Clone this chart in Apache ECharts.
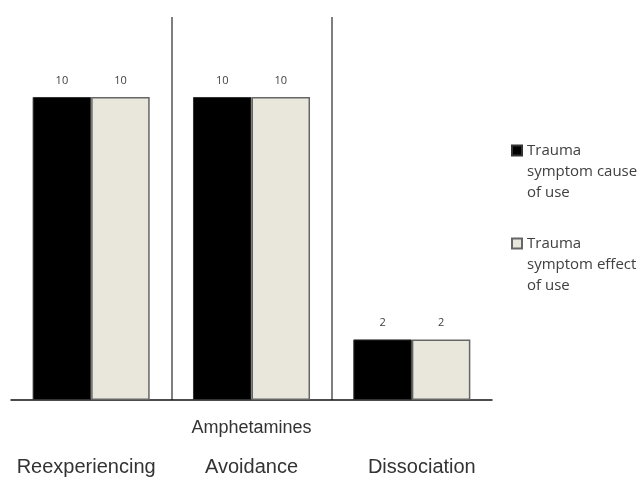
<!DOCTYPE html>
<html>
<head>
<meta charset="utf-8">
<script src="https://cdn.jsdelivr.net/npm/echarts@6/dist/echarts.min.js"></script>
<style>
  html, body { margin: 0; padding: 0; background: #fff; }
  #chart { width: 642px; height: 479px; }
</style>
</head>
<body>
<div id="chart"></div>
<script>
// Trauma symptom categories for amphetamine use
const categories = ['Reexperiencing', 'Avoidance', 'Dissociation'];
const causeValues = [10, 10, 2];
const effectValues = [10, 10, 2];
const seriesNames = ['Trauma symptom cause of use', 'Trauma symptom effect of use'];
// two leading blank lines keep the first text line level with the swatch
const legendLines = {
  'Trauma symptom cause of use': '\n\nTrauma\nsymptom cause\nof use',
  'Trauma symptom effect of use': '\n\nTrauma\nsymptom effect\nof use'
};
const axisTitle = 'Amphetamines';

// small horizontal nudges for the category captions
const captionPadding = [[0, 10, 0, 0], [0, 0, 0, 0], [0, 0, 0, 20]];

const chart = echarts.init(document.getElementById('chart'));

const valueLabel = {
  show: true,
  position: 'top',
  distance: 11,
  fontFamily: 'Open Sans',
  fontSize: 11,
  color: '#404040'
};

chart.setOption({
  animation: false,
  backgroundColor: '#ffffff',
  grid: { left: 11, right: 150, top: 17, bottom: 79, containLabel: false, outerBoundsMode: 'none' },
  legend: {
    orient: 'vertical',
    left: 511,
    top: 98,
    padding: 0,
    itemWidth: 10,
    itemHeight: 10,
    itemGap: -12,
    icon: 'rect',
    data: seriesNames,
    formatter: name => legendLines[name],
    textStyle: {
      fontFamily: 'Open Sans',
      fontSize: 15,
      color: '#404040',
      lineHeight: 21
    }
  },
  xAxis: {
    type: 'category',
    data: categories.map((c, i) => ({ value: c, textStyle: { padding: captionPadding[i] } })),
    name: axisTitle,
    nameLocation: 'middle',
    nameGap: 19,
    nameMoveOverlap: false,
    nameTextStyle: { fontFamily: 'Liberation Sans', fontSize: 18, color: '#333', verticalAlign: 'top' },
    axisLine: { show: true, lineStyle: { color: '#111', width: 1.5 } },
    axisTick: { show: false, interval: 0 },
    axisLabel: {
      interval: 0,
      hideOverlap: false,
      margin: 57,
      fontFamily: 'Liberation Sans',
      fontSize: 20,
      color: '#333'
    },
    splitLine: {
      show: true,
      interval: 0,
      lineStyle: {
        color: ['rgba(0,0,0,0)', '#555', '#555', 'rgba(0,0,0,0)'],
        width: 1.5
      }
    }
  },
  yAxis: {
    type: 'value',
    min: 0,
    max: 12.64,
    show: false,
    splitLine: { show: false }
  },
  series: [
    {
      name: seriesNames[0],
      type: 'bar',
      data: causeValues,
      barGap: '0%',
      barCategoryGap: '27%',
      itemStyle: { color: '#000000', borderColor: '#333', borderWidth: 1 },
      label: valueLabel
    },
    {
      name: seriesNames[1],
      type: 'bar',
      data: effectValues,
      itemStyle: { color: '#e9e7dc', borderColor: '#666', borderWidth: 1.5 },
      label: valueLabel
    }
  ]
});
</script>
</body>
</html>
